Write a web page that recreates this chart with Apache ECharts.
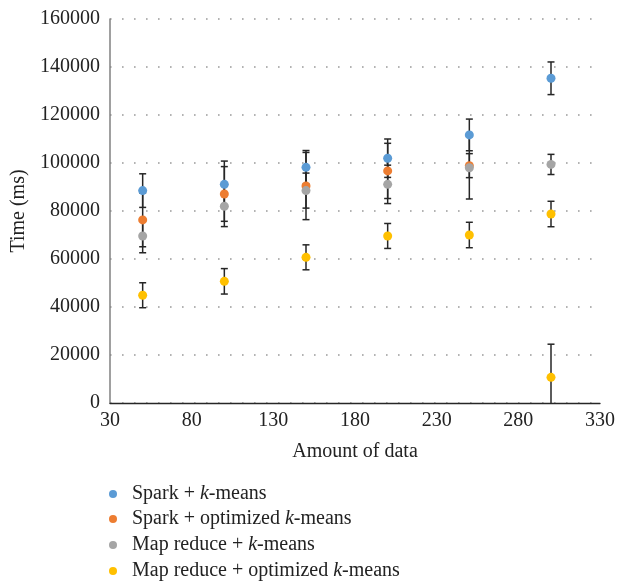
<!DOCTYPE html>
<html>
<head>
<meta charset="utf-8">
<script src="https://cdn.jsdelivr.net/npm/echarts@6/dist/echarts.min.js"></script>
<style>
html,body{margin:0;padding:0;background:#fff;}
#chart{width:618px;height:583px;}
</style>
</head>
<body>
<div id="chart"></div>
<script>
// ---- data ----
const xValues = [50, 100, 150, 200, 250, 300];
const sparkKmeans = [88500, 91100, 98200, 102000, 111700, 135300];
const sparkKmeansErr = [7000, 9700, 7000, 8000, 6600, 6800];
const sparkOptX = [50, 100, 150, 200, 250];
const sparkOpt = [76300, 87100, 90400, 96700, 98900];
const sparkOptErr = [11200, 11400, 14000, 11500, 5000];
const mrKmeans = [69600, 82000, 88500, 91100, 98000, 99400];
const mrKmeansErr = [7000, 8500, 7300, 8000, 13000, 4200];
const mrOptX = [50, 100, 150, 200, 250, 300, 300];
const mrOpt = [44900, 50700, 60700, 69600, 70000, 78750, 10700];
const mrOptErr = [5200, 5300, 5200, 5200, 5300, 5300, 13800];
const seriesNames = ['Spark + k-means', 'Spark + optimized k-means', 'Map reduce + k-means', 'Map reduce + optimized k-means'];
const colors = ['#5B9BD5', '#ED7D31', '#A5A5A5', '#FFC000'];
const xTicks = {min: 30, max: 330, interval: 50};
const yTicks = {min: 0, max: 160000, interval: 20000};

const groups = [
  {x: xValues, y: sparkKmeans, e: sparkKmeansErr},
  {x: sparkOptX, y: sparkOpt, e: sparkOptErr},
  {x: xValues, y: mrKmeans, e: mrKmeansErr},
  {x: mrOptX, y: mrOpt, e: mrOptErr}
];

const FONT = '"Liberation Serif", "DejaVu Serif", serif';

function errRender(params, api) {
  const x = api.value(0), lo = api.value(1), hi = api.value(2);
  const loC = Math.max(lo, 0);
  const pHi = api.coord([x, hi]);
  const pLo = api.coord([x, loC]);
  const w = 3.5;
  const style = {stroke: '#262626', lineWidth: 1.5};
  const children = [
    {type: 'line', shape: {x1: pHi[0], y1: pHi[1], x2: pLo[0], y2: pLo[1]}, style: style},
    {type: 'line', shape: {x1: pHi[0] - w, y1: pHi[1], x2: pHi[0] + w, y2: pHi[1]}, style: style}
  ];
  if (lo >= 0) {
    children.push({type: 'line', shape: {x1: pLo[0] - w, y1: pLo[1], x2: pLo[0] + w, y2: pLo[1]}, style: style});
  }
  return {type: 'group', children: children};
}

const series = [];
groups.forEach(function (g, i) {
  series.push({
    type: 'custom',
    renderItem: errRender,
    data: g.x.map(function (xv, k) { return [xv, g.y[k] - g.e[k], g.y[k] + g.e[k]]; }),
    encode: {x: 0, y: [1, 2]},
    z: 2,
    silent: true
  });
});
groups.forEach(function (g, i) {
  series.push({
    name: seriesNames[i],
    type: 'scatter',
    symbol: 'circle',
    symbolSize: 9,
    itemStyle: {color: colors[i], opacity: 1},
    data: g.x.map(function (xv, k) { return [xv, g.y[k]]; }),
    z: 5
  });
});

const legendTops = [484, 509, 535, 561];
const legends = seriesNames.map(function (nm, i) {
  return {
    orient: 'vertical',
    left: 109,
    top: legendTops[i],
    padding: 0,
    itemWidth: 8,
    itemHeight: 8,
    icon: 'circle',
    data: [nm],
    formatter: function (name) {
      const parts = name.split('k-means');
      return parts[0] + '{i|k}-means';
    },
    textStyle: {
      fontFamily: FONT, fontSize: 20, color: '#222', padding: [0, 0, 0, 10],
      rich: {i: {fontFamily: FONT, fontSize: 20, fontStyle: 'italic', color: '#222'}}
    }
  };
});

const chart = echarts.init(document.getElementById('chart'), null, {renderer: 'canvas'});
chart.setOption({
  backgroundColor: '#ffffff',
  animation: false,
  color: colors,
  grid: {left: 110, right: 18, top: 19, bottom: 180, containLabel: false, outerBoundsMode: 'none'},
  xAxis: {
    type: 'value',
    min: xTicks.min, max: xTicks.max, interval: xTicks.interval,
    name: 'Amount of data',
    nameLocation: 'middle',
    nameGap: 39,
    nameTextStyle: {fontFamily: FONT, fontSize: 20, color: '#222'},
    axisLine: {show: true, onZero: false, lineStyle: {color: '#262626', width: 1.3}},
    axisTick: {show: false},
    axisLabel: {fontFamily: FONT, fontSize: 20, color: '#222', margin: 8},
    splitLine: {show: false}
  },
  yAxis: {
    type: 'value',
    min: yTicks.min, max: yTicks.max, interval: yTicks.interval,
    name: 'Time (ms)',
    nameLocation: 'middle',
    nameGap: 74,
    nameTextStyle: {fontFamily: FONT, fontSize: 20, color: '#222'},
    axisLine: {show: true, lineStyle: {color: '#808080', width: 1.5}},
    axisTick: {show: false},
    axisLabel: {fontFamily: FONT, fontSize: 20, color: '#222', margin: 10, formatter: function (v) { return String(v); }},
    splitLine: {show: true, lineStyle: {color: '#9a9a9a', width: 1.6, type: [1.6, 10.4]}}
  },
  legend: legends,
  series: series
});
</script>
</body>
</html>
